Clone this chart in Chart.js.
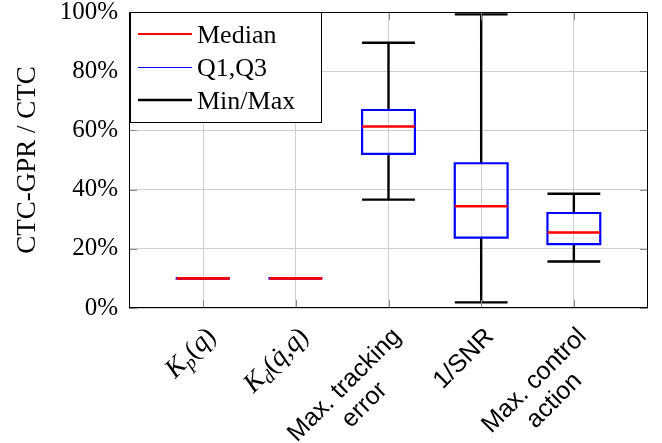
<!DOCTYPE html>
<html><head><meta charset="utf-8">
<script src="https://cdn.jsdelivr.net/npm/chart.js@4/dist/chart.umd.min.js"></script>
<style>html,body{margin:0;padding:0;background:#fff;}</style>
</head><body>
<canvas id="c" width="662" height="443"></canvas>
<script>
// ---- data ----
const categories = ['Kp(q)', 'Kd(q\u0307,q)', 'Max. tracking error', '1/SNR', 'Max. control action'];
const tickLabelLines = [['K_p(q)'], ['K_d(q\u0307,q)'], ['Max. tracking', 'error'], ['1/SNR'], ['Max. control', 'action']];
const mins    = [10, 10, 36.6,  1.9, 15.7];
const q1s     = [10, 10, 52.1, 23.8, 21.6];
const medians = [10, 10, 61.3, 34.4, 25.5];
const q3s     = [10, 10, 66.9, 48.9, 32.1];
const maxs    = [10, 10, 89.6, 99.2, 38.6];
const yTicks = [0, 20, 40, 60, 80, 100];
const legendLabels = ['Median', 'Q1,Q3', 'Min/Max'];
const yTitle = 'CTC-GPR / CTC';

// ---- styles ----
const H = 0.285; // half box width in category units
const SERIF = '"Liberation Serif", "Times New Roman", serif';
const SANS = '"Liberation Sans", Arial, sans-serif';
const xs = categories.map((_, i) => i + 1);

const whiskerPts = [], boxPts = [], medPts = [];
xs.forEach((x, i) => {
  whiskerPts.push({x, y: q3s[i]}, {x, y: maxs[i]}, {x, y: null},
                  {x, y: q1s[i]}, {x, y: mins[i]}, {x, y: null},
                  {x: x - H, y: maxs[i]}, {x: x + H, y: maxs[i]}, {x, y: null},
                  {x: x - H, y: mins[i]}, {x: x + H, y: mins[i]}, {x, y: null});
  boxPts.push({x: x - H, y: q1s[i]}, {x: x + H, y: q1s[i]}, {x: x + H, y: q3s[i]},
              {x: x - H, y: q3s[i]}, {x: x - H, y: q1s[i]}, {x, y: null});
  medPts.push({x: x - H, y: medians[i]}, {x: x + H, y: medians[i]}, {x, y: null});
});

const common = {showLine: true, pointRadius: 0, pointHoverRadius: 0, spanGaps: false, tension: 0, fill: false};

const framePlugin = {
  id: 'frame',
  afterDatasetsDraw(chart) {
    const {ctx, chartArea: a, scales} = chart;
    ctx.save();
    ctx.strokeStyle = '#8a8a8a';
    ctx.lineWidth = 1;
    const TL = 8;
    ctx.beginPath();
    xs.forEach(v => {
      const px = Math.round(scales.x.getPixelForValue(v)) + 0.5;
      ctx.moveTo(px, a.bottom); ctx.lineTo(px, a.bottom - TL);
      ctx.moveTo(px, a.top); ctx.lineTo(px, a.top + TL);
    });
    yTicks.forEach(v => {
      const py = Math.round(scales.y.getPixelForValue(v)) + 0.5;
      ctx.moveTo(a.left, py); ctx.lineTo(a.left + TL, py);
      ctx.moveTo(a.right, py); ctx.lineTo(a.right - TL, py);
    });
    ctx.stroke();
    ctx.strokeStyle = '#000';
    ctx.lineWidth = 1;
    ctx.strokeRect(Math.round(a.left) + 0.5, Math.round(a.top) + 0.5,
                   Math.round(a.right - a.left) - 1, Math.round(a.bottom - a.top) - 1);
    // legend
    const lx = 130.5, ly = 12.5, lw = 191, lh = 110;
    ctx.fillStyle = '#fff';
    ctx.fillRect(lx, ly, lw, lh);
    ctx.strokeRect(lx, ly, lw, lh);
    const rows = [34, 67.5, 100];
    const styles = [['#ff0000', 2.2], ['#0000ff', 1], ['#000000', 2.5]];
    ctx.font = '26px ' + SERIF;
    ctx.textAlign = 'left';
    ctx.textBaseline = 'alphabetic';
    legendLabels.forEach((t, i) => {
      ctx.strokeStyle = styles[i][0];
      ctx.lineWidth = styles[i][1];
      ctx.beginPath();
      ctx.moveTo(138, rows[i]); ctx.lineTo(192, rows[i]);
      ctx.stroke();
      ctx.fillStyle = '#000';
      ctx.fillText(t, 197, rows[i] + 8.5);
    });
    ctx.restore();
  },
  afterDraw(chart) {
    const {ctx, chartArea: a, scales} = chart;
    const b = [Math.SQRT1_2, -Math.SQRT1_2], d = [Math.SQRT1_2, Math.SQRT1_2];
    const LS = 28;
    ctx.save();
    ctx.fillStyle = '#000';
    ctx.textBaseline = 'alphabetic';
    ctx.textAlign = 'left';
    const parse = (line) => {
      if (line.indexOf('_') < 0) return [{t: line, font: '25px ' + SANS, dy: 0}];
      const parts = [];
      const chars = Array.from(line);
      for (let k = 0; k < chars.length; k++) {
        let c = chars[k];
        if (c === '_') { parts.push({t: chars[++k], font: 'italic 19px ' + SERIF, dy: 5}); continue; }
        let dot = false;
        if (chars[k + 1] === '\u0307') { dot = true; k++; }
        const italic = /[A-Za-z]/.test(c);
        parts.push({t: c, font: (italic ? 'italic ' : '') + '27px ' + SERIF, dy: 0, dot});
      }
      return parts;
    };
    const widthOf = (parts) => parts.reduce((s, p) => { ctx.font = p.font; return s + ctx.measureText(p.t).width; }, 0);
    tickLabelLines.forEach((lines, i) => {
      const tx = scales.x.getPixelForValue(xs[i]);
      const R = [tx + 8, a.bottom + 24];
      const parsed = lines.map(parse);
      const widths = parsed.map(widthOf);
      const W = Math.max(...widths);
      parsed.forEach((parts, j) => {
        const cx = R[0] - W / 2 * b[0] + j * LS * d[0];
        const cy = R[1] - W / 2 * b[1] + j * LS * d[1];
        ctx.save();
        ctx.translate(cx, cy);
        ctx.rotate(-Math.PI / 4);
        let x0 = -widths[j] / 2;
        parts.forEach(p => {
          ctx.font = p.font;
          ctx.textAlign = 'left';
          ctx.fillText(p.t, x0, 8 + p.dy);
          const w = ctx.measureText(p.t).width;
          if (p.dot) {
            ctx.font = '27px ' + SERIF;
            ctx.textAlign = 'center';
            ctx.fillText('\u02D9', x0 + w / 2 + 2, 8 + p.dy);
          }
          x0 += w;
        });
        ctx.restore();
      });
    });
    ctx.restore();
  }
};

new Chart(document.getElementById('c'), {
  type: 'scatter',
  data: {
    datasets: [
      Object.assign({label: legendLabels[0], data: medPts, borderColor: '#ff0000', borderWidth: 2.6, borderCapStyle: 'butt', order: 0}, common),
      Object.assign({label: legendLabels[1], data: boxPts, borderColor: '#0000ff', borderWidth: 2.2, borderCapStyle: 'square', borderJoinStyle: 'miter', order: 1}, common),
      Object.assign({label: legendLabels[2], data: whiskerPts, borderColor: '#000000', borderWidth: 2.4, borderCapStyle: 'butt', order: 2}, common)
    ]
  },
  options: {
    responsive: false,
    animation: false,
    devicePixelRatio: 1,
    layout: {padding: {left: 0, right: 14, top: 0, bottom: 0}},
    plugins: {legend: {display: false}, tooltip: {enabled: false}},
    scales: {
      x: {
        type: 'linear', min: 0.2, max: 5.8,
        afterBuildTicks: s => { s.ticks = xs.map(v => ({value: v})); },
        afterFit: s => { s.height = 135; },
        ticks: {display: false},
        grid: {color: '#cfcfcf', lineWidth: 1, drawTicks: false},
        border: {display: false}
      },
      y: {
        min: 0, max: 100,
        afterBuildTicks: s => { s.ticks = yTicks.map(v => ({value: v})); },
        afterFit: s => { s.width = 129; s.paddingTop = 12; },
        ticks: {callback: v => v + '%', color: '#000', padding: 11, font: {family: SERIF, size: 25, lineHeight: 0.96}},
        grid: {color: '#cfcfcf', lineWidth: 1, drawTicks: false},
        border: {display: false},
        title: {display: true, text: yTitle, color: '#000', font: {family: SERIF, size: 27}, padding: {top: 12, bottom: 0}}
      }
    }
  },
  plugins: [framePlugin]
});
</script>
</body></html>
